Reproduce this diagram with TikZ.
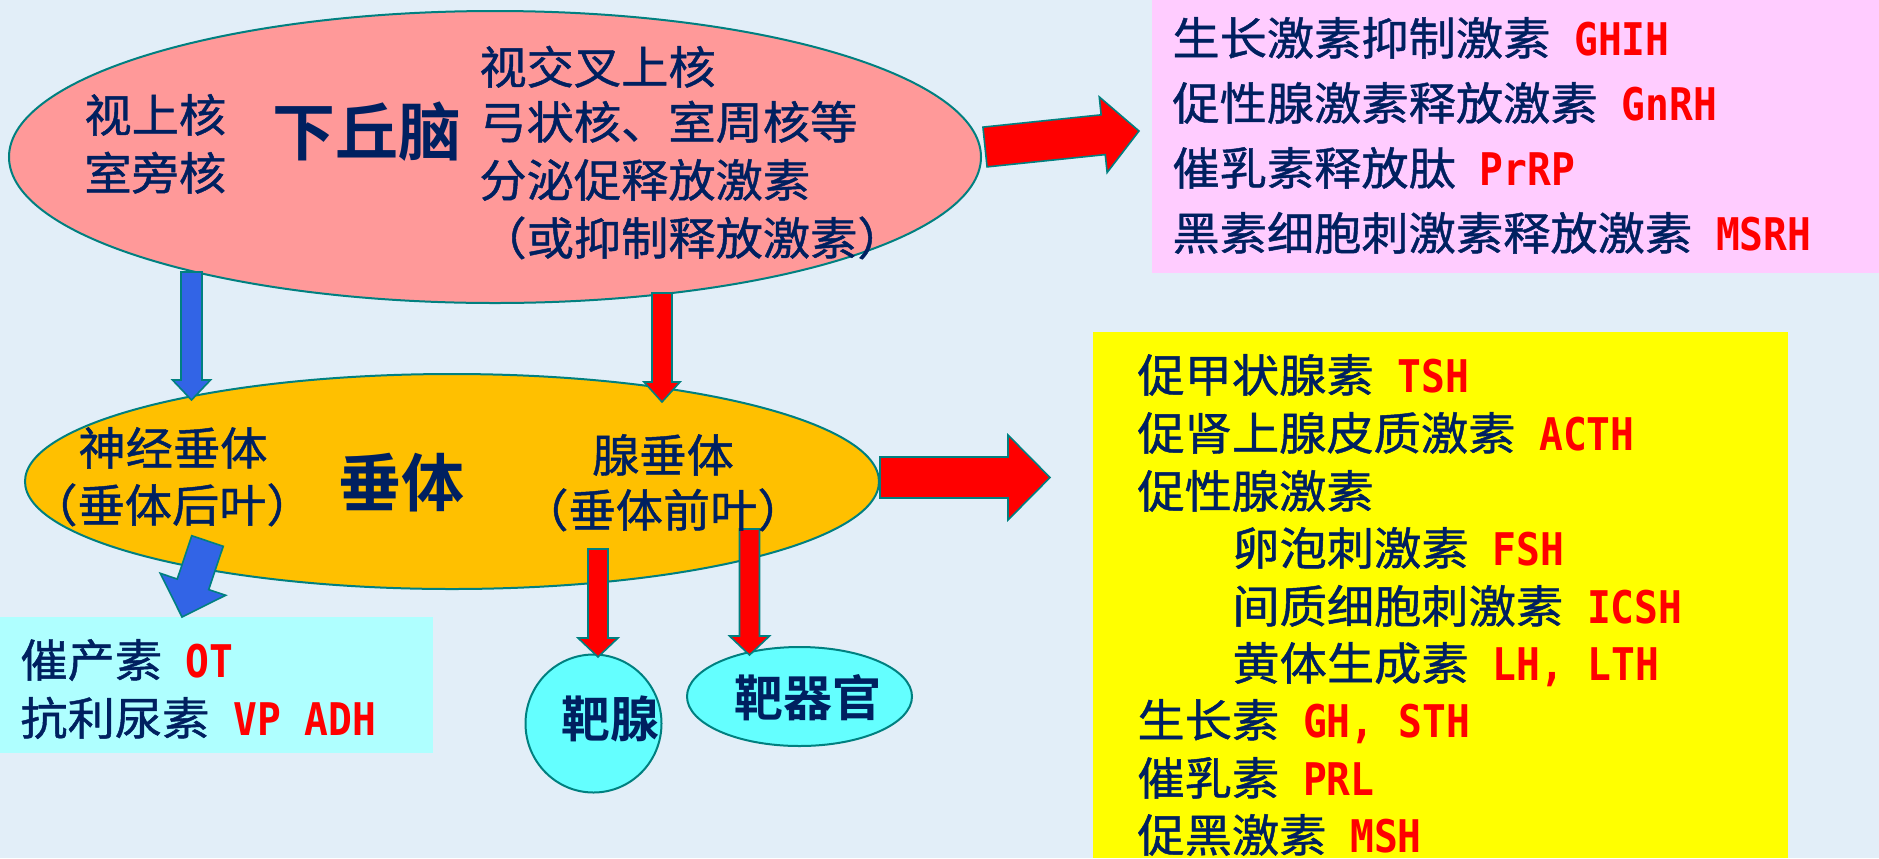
\documentclass[tikz,border=0pt]{standalone}
\usepackage{fontspec}
\usetikzlibrary{shapes.geometric,calc}
\newfontfamily\cjk[FakeStretch=1.05,FakeBold=1]{Noto Sans CJK SC}
\newfontfamily\cjkbig{Noto Sans CJK SC Bold}
\newfontfamily\lat[FakeStretch=0.88]{DejaVu Sans Mono}
\definecolor{bgblue}{RGB}{226,238,248}
\definecolor{navy}{RGB}{0,32,96}
\definecolor{hred}{RGB}{255,0,0}
\definecolor{tealline}{RGB}{0,128,128}
\definecolor{pinkbox}{RGB}{255,204,255}
\definecolor{cyanbox}{RGB}{175,255,255}
\definecolor{salmon}{RGB}{255,153,153}
\definecolor{amber}{RGB}{255,192,0}
\definecolor{aqua}{RGB}{100,255,255}
\definecolor{arrblue}{RGB}{50,100,230}
\definecolor{pureyellow}{RGB}{255,255,0}
\newcommand\abbr[1]{{\lat\bfseries\fontsize{22.5pt}{24pt}\selectfont\color{hred}\ #1}}
\newcommand\blockarr[6]{%
  \path (#2) coordinate (ba-s) (#3) coordinate (ba-e);
  \path ($(ba-e)!#6!(ba-s)$) coordinate (ba-h);
  \draw[#1] ($(ba-s)!#4!90:(ba-e)$) -- ($(ba-h)!#4!-90:(ba-s)$) -- ($(ba-h)!#5!-90:(ba-s)$) -- (ba-e)
    -- ($(ba-h)!#5!90:(ba-s)$) -- ($(ba-h)!#4!90:(ba-s)$) -- ($(ba-s)!#4!-90:(ba-e)$) -- cycle;
}
\tikzset{
  txt/.style={font=\cjk\fontsize{22.5pt}{24pt}\selectfont, text=navy, inner sep=0pt, anchor=base west},
  ctxt/.style={txt, anchor=base},
  bigtxt/.style={font=\cjkbig\fontsize{31.5pt}{34pt}\selectfont, text=navy, inner sep=0pt, anchor=base},
  boldtxt/.style={font=\cjkbig\fontsize{24.5pt}{26pt}\selectfont, text=navy, inner sep=0pt, anchor=base},
  oval/.style={ellipse, draw=tealline, line width=1pt, inner sep=0pt},
  panel/.style={inner sep=0pt, outer sep=0pt, anchor=north west},
  redarr/.style={fill=hred, draw=tealline, line width=0.8pt},
  bluearr/.style={fill=arrblue, draw=tealline, line width=0.8pt}
}
\begin{document}
\begin{tikzpicture}[x=0.5pt, y=-0.5pt]
\useasboundingbox[fill=bgblue] (0,0) rectangle (1879,858);
% panels
\node[panel, fill=pinkbox, minimum width=363.5pt, minimum height=136.5pt] (pbox) at (1152,0) {};
\node[panel, fill=pureyellow, minimum width=347.5pt, minimum height=263pt] (ybox) at (1093,332) {};
\node[panel, fill=cyanbox, minimum width=216.5pt, minimum height=68pt] (cbox) at (0,617) {};
% ellipses
\node[oval, fill=salmon, minimum width=486pt, minimum height=146pt] (hyp) at (495,157) {};
\node[oval, fill=amber, minimum width=427pt, minimum height=107.5pt] (pit) at (452,481.5) {};
\node[oval, fill=aqua, minimum width=68pt, minimum height=69pt] (gland) at (593.5,723.5) {};
\node[oval, fill=aqua, minimum width=112.5pt, minimum height=49.5pt] (organ) at (799.5,696.5) {};
% arrow end points
\coordinate (a1s) at (985,147);   \coordinate (a1e) at (1139,131);
\coordinate (a2s) at (880,477.5); \coordinate (a2e) at (1050,477.5);
\coordinate (a3s) at (191.5,272); \coordinate (a3e) at (191.5,400);
\coordinate (a4s) at (662,293);   \coordinate (a4e) at (662,402);
\coordinate (a5s) at (207.5,541); \coordinate (a5e) at (182,617);
\coordinate (a6s) at (598,549);   \coordinate (a6e) at (598,657);
\coordinate (a7s) at (749.5,529); \coordinate (a7e) at (749.5,655);
\blockarr{redarr}{a1s}{a1e}{10pt}{19pt}{18pt}
\blockarr{redarr}{a2s}{a2e}{10.25pt}{21.25pt}{21pt}
\blockarr{bluearr}{a3s}{a3e}{5.25pt}{9.5pt}{10pt}
\blockarr{redarr}{a4s}{a4e}{5pt}{9pt}{10pt}
\blockarr{bluearr}{a5s}{a5e}{8.3pt}{17.25pt}{17.25pt}
\blockarr{redarr}{a6s}{a6e}{5pt}{10pt}{9.5pt}
\blockarr{redarr}{a7s}{a7e}{5pt}{10pt}{9.5pt}
% hypothalamus texts
\node[txt] (h1) at (84,132) {视上核};
\node[txt] (h2) at (84,190) {室旁核};
\node[bigtxt] (h0) at (367,155) {下丘脑};
\node[txt] (h3) at (479,84) {视交叉上核};
\node[txt] (h4) at (479,139) {弓状核、室周核等};
\node[txt] (h5) at (479,197) {分泌促释放激素};
\node[txt] (h6) at (479,255) {（或抑制释放激素）};
% pituitary texts
\node[ctxt] (q1) at (173,465) {神经垂体};
\node[ctxt] (q2) at (172,522) {（垂体后叶）};
\node[bigtxt] (q0) at (401.5,506.5) {垂体};
\node[ctxt] (q3) at (663,472) {腺垂体};
\node[ctxt] (q4) at (663,527) {（垂体前叶）};
% targets
\node[boldtxt] (t1) at (610.5,737) {靶腺};
\node[boldtxt] (t2) at (807.5,716) {靶器官};
% pink panel
\node[txt] (p1) at (1172,55) {生长激素抑制激素\abbr{GHIH}};
\node[txt] (p2) at (1172,120) {促性腺激素释放激素\abbr{GnRH}};
\node[txt] (p3) at (1172,185) {催乳素释放肽\abbr{PrRP}};
\node[txt] (p4) at (1172,250) {黑素细胞刺激素释放激素\abbr{MSRH}};
% yellow panel
\node[txt] (y1) at (1137,392) {促甲状腺素\abbr{TSH}};
\node[txt] (y2) at (1137,450) {促肾上腺皮质激素\abbr{ACTH}};
\node[txt] (y3) at (1137,508) {促性腺激素};
\node[txt] (y4) at (1232,565) {卵泡刺激素\abbr{FSH}};
\node[txt] (y5) at (1232,623) {间质细胞刺激素\abbr{ICSH}};
\node[txt] (y6) at (1232,680) {黄体生成素\abbr{LH, LTH}};
\node[txt] (y7) at (1137,737) {生长素\abbr{GH, STH}};
\node[txt] (y8) at (1137,795) {催乳素\abbr{PRL}};
\node[txt] (y9) at (1137,852) {促黑激素\abbr{MSH}};
% cyan panel
\node[txt] (c1) at (20,677) {催产素\abbr{OT}};
\node[txt] (c2) at (20,735) {抗利尿素\abbr{VP ADH}};
\end{tikzpicture}
\end{document}
